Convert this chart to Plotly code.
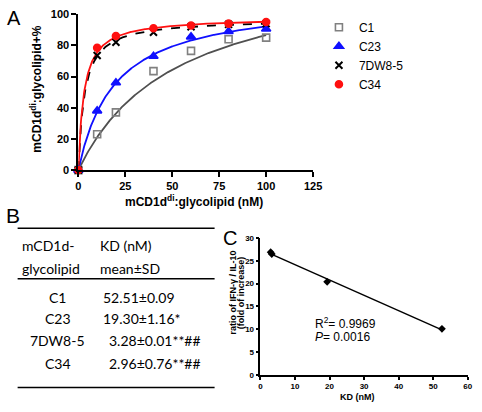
import plotly.graph_objects as go
import numpy as np

W, H = 482, 412
def px(x): return x / W
def py(y): return 1 - y / H

# ---------------- Panel A data ----------------
conc = [0, 10, 20, 40, 60, 80, 100]
series_names = ["C1", "C23", "7DW8-5", "C34"]
c1_vals = [0, 23, 37, 63.5, 76.5, 84, 85]
c23_vals = [0, 38, 56, 73, 85.5, 89, 90.5]
dw_vals = [0, 73.5, 82, 88.5, 92, 93.5, 94]
c34_vals = [0, 78.5, 86, 91, 92.8, 94, 95]
# one-site binding fit parameters (KD from table B, Bmax read from plateau)
kd_mean = [52.51, 19.30, 3.28, 2.96]
kd_sd = ["0.09", "1.16*", "0.01**##", "0.76**##"]
bmax = [132, 110, 97, 98]

# ---------------- Panel C data ----------------
kd_c = [2.96, 3.28, 19.30, 52.51]
ratio_c = [26.9, 26.5, 20.4, 10.1]

colors = ["#505050", "#1010ff", "#000000", "#ff1010"]
marker_color = ["#808080", "#1010ff", "#000000", "#ff1010"]
symbols = ["square-open", "triangle-up", "x-thin", "circle"]
sizes = [7, 8, 7, 7]
dashes = ["solid", "solid", "dash", "solid"]
vals = [c1_vals, c23_vals, dw_vals, c34_vals]

fig = go.Figure()
xfit = np.linspace(0, 100, 401)
for i, name in enumerate(series_names):
    yfit = bmax[i] * xfit / (kd_mean[i] + xfit)
    fig.add_trace(go.Scatter(x=xfit, y=yfit, mode="lines", showlegend=False,
                             line=dict(color=colors[i], width=1.8, dash=dashes[i]),
                             xaxis="x", yaxis="y", hoverinfo="skip", cliponaxis=False))
for i, name in enumerate(series_names):
    mline = dict(color=marker_color[i], width=2 if i == 2 else 1.6)
    fig.add_trace(go.Scatter(x=conc, y=vals[i], mode="markers", name=name,
                             marker=dict(symbol=symbols[i], size=sizes[i],
                                         color=marker_color[i], line=mline),
                             xaxis="x", yaxis="y", cliponaxis=False))

# Panel C
slope, intercept = np.polyfit(kd_c, ratio_c, 1)
xl = np.array([min(kd_c), max(kd_c)])
fig.add_trace(go.Scatter(x=xl, y=slope * xl + intercept, mode="lines", showlegend=False,
                         line=dict(color="black", width=1.5), xaxis="x2", yaxis="y2"))
fig.add_trace(go.Scatter(x=kd_c, y=ratio_c, mode="markers", showlegend=False,
                         marker=dict(symbol="diamond", size=6, color="black"),
                         xaxis="x2", yaxis="y2", cliponaxis=False))

axA = dict(showline=True, linecolor="black", linewidth=2, ticks="outside", ticklen=5,
           tickwidth=2, tickcolor="black", showgrid=False, zeroline=False,
           tickfont=dict(family="Arial", size=11, color="black", weight="bold"))
axC = dict(showline=True, linecolor="black", linewidth=1.5, ticks="outside", ticklen=3,
           tickwidth=1.5, tickcolor="black", showgrid=False, zeroline=False,
           tickfont=dict(family="Arial", size=8, color="black", weight="bold"))

fig.update_layout(
    width=W, height=H, margin=dict(l=0, r=0, t=0, b=0),
    paper_bgcolor="white", plot_bgcolor="white",
    xaxis=dict(domain=[px(77.3), px(318)], range=[0, 125], tickvals=[0, 25, 50, 75, 100, 125],
               anchor="y", **axA),
    yaxis=dict(domain=[py(169), py(8.5)], range=[0, 100], tickvals=[0, 20, 40, 60, 80, 100],
               anchor="x", **axA),
    xaxis2=dict(domain=[px(264), px(476.7)], range=[0, 60], tickvals=list(range(0, 61, 10)),
                anchor="y2", **axC),
    yaxis2=dict(domain=[py(380), py(239)], range=[0, 30], tickvals=list(range(0, 31, 5)),
                anchor="x2", **axC),
    legend=dict(x=px(324), y=py(7), xanchor="left", yanchor="top",
                font=dict(family="Arial", size=12, color="black"),
                bgcolor="rgba(0,0,0,0)", tracegroupgap=0, itemwidth=30),
    showlegend=True,
)

ann = []
def text(x, y, s, size=13, family="Lato", xanchor="center", angle=0, bold=False, color="black"):
    ann.append(dict(x=px(x), y=py(y), xref="paper", yref="paper", text=s, showarrow=False,
                    xanchor=xanchor, yanchor="middle", textangle=angle,
                    font=dict(family=family, size=size, color=color,
                              weight="bold" if bold else "normal")))

# panel labels
text(11.5, 12, "A", size=20, family="Arial")
text(10, 216, "B", size=21, family="Arial")
text(233, 239, "C", size=20, family="Arial")

# panel A titles
text(34, 86, "mCD1d<sup>di</sup>:glycolipid+%", size=12, family="Arial", angle=-90, bold=True)
text(196, 201, "mCD1d<sup>di</sup>:glycolipid (nM)", size=12, family="Arial", bold=True)

# panel C titles
text(236, 295, "ratio of IFN-γ / IL-10", size=9, family="Arial", angle=-90, bold=True)
text(245, 295, "(fold of increase)", size=9, family="Arial", angle=-90, bold=True)
text(364, 403, "KD (nM)", size=9, family="Arial", bold=True)
text(318, 326, "R<sup>2</sup>= 0.9969", size=12, family="Arial", xanchor="left")
text(318, 341, "<i>P</i>= 0.0016", size=12, family="Arial", xanchor="left")

# panel B table
text(17, 247, "mCD1d-", size=14, xanchor="left")
text(17, 270, "glycolipid", size=14, xanchor="left")
text(97, 247, "KD (nM)", size=14, xanchor="left")
text(97, 270, "mean±SD", size=14, xanchor="left")
row_y = [300, 322, 345, 368]
for i, name in enumerate(series_names):
    text(56, row_y[i], name, size=14)
    xs = 100 if kd_mean[i] >= 10 else 107
    text(xs, row_y[i], f"{kd_mean[i]:.2f}±{kd_sd[i]}", size=14, xanchor="left")

shapes = []
for yy in [229, 281, 393]:
    shapes.append(dict(type="line", xref="paper", yref="paper", x0=px(15), x1=px(217),
                       y0=py(yy), y1=py(yy), line=dict(color="black", width=1.5)))

fig.update_layout(annotations=ann, shapes=shapes)
fig.write_html("out.html", config={"displayModeBar": False},
               post_script="document.body.style.margin='0';document.body.style.overflow='hidden';")
